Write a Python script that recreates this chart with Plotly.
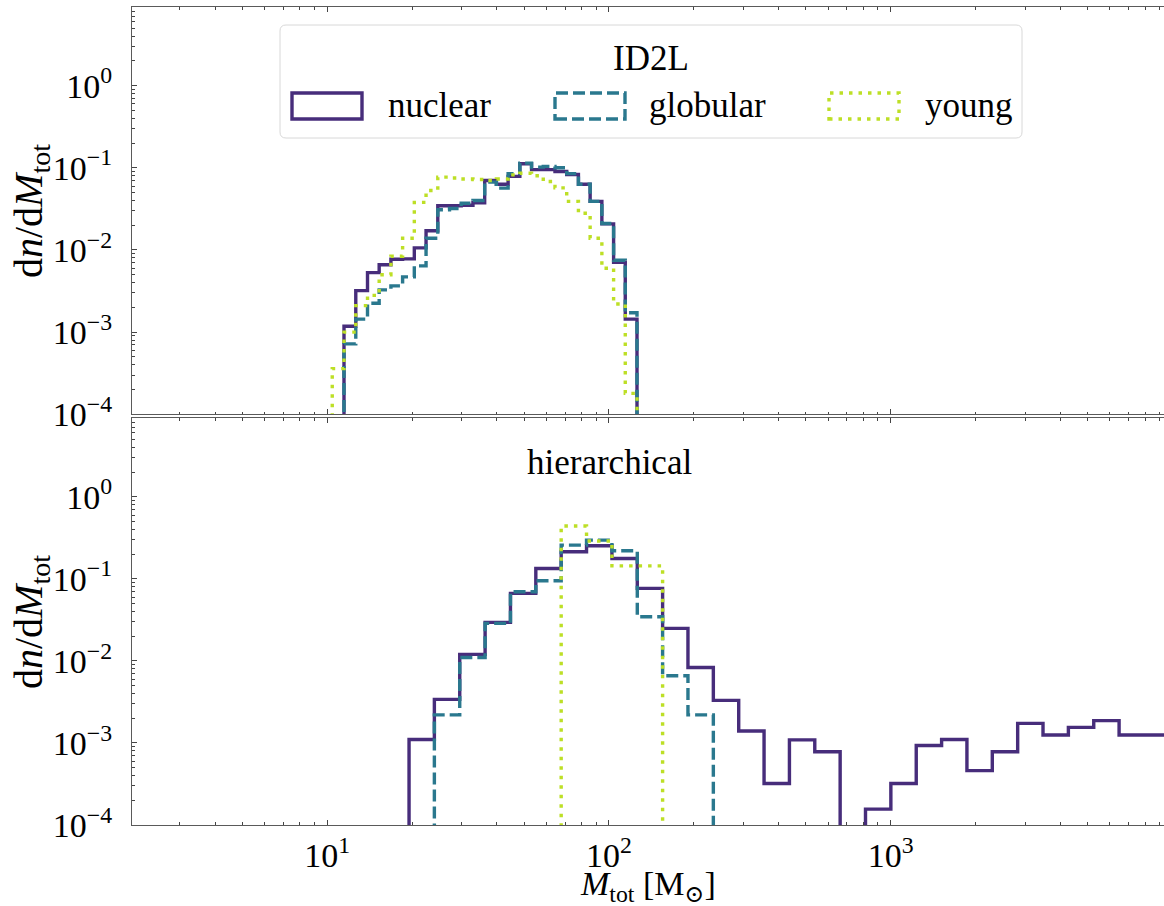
import plotly.graph_objects as go

# ---------------- data ----------------
# top panel (ID2L): common logarithmic bin edges in M_sun
top_edges = [10.42, 11.47, 12.63, 13.90, 15.29, 16.83, 18.52, 20.38, 22.43, 24.69,
             27.17, 29.90, 32.91, 36.22, 39.86, 43.87, 48.28, 53.13, 58.47, 64.35,
             70.82, 77.94, 85.77, 94.40, 103.9, 114.3, 125.8]
top_nuclear = [0, 1.18e-3, 3.2e-3, 5.3e-3, 6.6e-3, 7.7e-3, 7.8e-3, 0.0106, 0.0171, 0.0345,
               0.0345, 0.035, 0.0375, 0.070, 0.063, 0.0786, 0.112, 0.095, 0.095, 0.090,
               0.083, 0.063, 0.039, 0.0208, 0.0071, 1.44e-3]
top_globular = [0, 7.2e-4, 1.44e-3, 2.25e-3, 3.27e-3, 3.66e-3, 4.7e-3, 6.4e-3, 0.0139, 0.0308,
                0.032, 0.037, 0.040, 0.067, 0.0565, 0.085, 0.114, 0.102, 0.104, 0.100,
                0.085, 0.063, 0.039, 0.021, 0.0075, 1.72e-3]
top_young = [3.6e-4, 1.0e-3, 2.1e-3, 2.8e-3, 5.0e-3, 8.4e-3, 0.0139, 0.038, 0.053, 0.077,
             0.075, 0.073, 0.072, 0.070, 0.073, 0.082, 0.086, 0.080, 0.068, 0.057,
             0.039, 0.028, 0.0139, 6.0e-3, 2.2e-3, 1.8e-4]

# bottom panel (hierarchical)
bot_edges = [19.52, 24.01, 29.54, 36.35, 44.72, 55.02, 67.69, 83.28, 102.5, 126.1,
             155.1, 190.8, 234.8, 288.9, 355.4, 437.3, 538.0, 662.0, 814.4, 1002,
             1233, 1517, 1866, 2296, 2825, 3475, 4276, 5261, 6472, 7963, 9798]
bot_nuclear = [1.1e-3, 3.4e-3, 0.012, 0.0295, 0.0666, 0.134, 0.214, 0.253, 0.177, 0.0766,
               0.0249, 8.3e-3, 3.3e-3, 1.4e-3, 3.2e-4, 1.09e-3, 7.8e-4, 0, 1.56e-4, 3.2e-4,
               9.3e-4, 1.1e-3, 4.6e-4, 7.8e-4, 1.73e-3, 1.25e-3, 1.55e-3, 1.87e-3, 1.25e-3, 1.25e-3]
bot_globular = [0, 2.2e-3, 0.011, 0.0287, 0.0697, 0.095, 0.258, 0.297, 0.22, 0.0345,
                6.6e-3, 2.2e-3]
bot_young = [0, 0, 0, 0, 0, 0, 0.44, 0.29, 0.144, 0.144]

series_names = ["nuclear", "globular", "young"]
legend_title = "ID2L"
panel2_title = "hierarchical"

y_tickvals = [1e-4, 1e-3, 1e-2, 1e-1, 1]
y_ticktext = ["10<sup>−4</sup>", "10<sup>−3</sup>", "10<sup>−2</sup>", "10<sup>−1</sup>", "10<sup>0</sup>"]
x_tickvals = [10, 100, 1000]
x_ticktext = ["10<sup>1</sup>", "10<sup>2</sup>", "10<sup>3</sup>"]

# ---------------- style ----------------
COLORS = {"nuclear": "#472d7b", "globular": "#2a788e", "young": "#bddf26"}
DASH = {"nuclear": "solid", "globular": "12px,5px", "young": "3.5px,6px"}
LW = 3.4
FONT = "Liberation Serif, DejaVu Serif, serif"
FLOOR = 1e-9

W, H = 1164, 906
ML, MR, MT, MB = 132, 0, 7, 81
PW, PH = W - ML - MR, H - MT - MB


def step(edges, vals):
    xs = [edges[0]] + list(edges[:len(vals) + 1])
    ys = [FLOOR] + [v if v > 0 else FLOOR for v in vals] + [FLOOR]
    return xs, ys


fig = go.Figure()
panels = [
    ("x", "y", top_edges, [top_nuclear, top_globular, top_young]),
    ("x2", "y2", bot_edges, [bot_nuclear, bot_globular, bot_young]),
]
for xa, ya, edges, vals_list in panels:
    for name, vals in zip(series_names, vals_list):
        xs, ys = step(edges, vals)
        fig.add_trace(go.Scatter(
            x=xs, y=ys, mode="lines", line_shape="hv", name=name, showlegend=False,
            line=dict(color=COLORS[name], width=LW, dash=DASH[name]),
            xaxis=xa, yaxis=ya, hoverinfo="skip"))

x_minor = [m * 10 ** k for k in range(0, 4) for m in range(2, 10)]
y_minor = [m * 10.0 ** k for k in range(-4, 1) for m in range(2, 10)]

axis_common = dict(showline=True, linecolor="#5a5a5a", linewidth=1.3,
                   ticks="inside", ticklen=5, tickwidth=1, tickcolor="#444",
                   showgrid=False, zeroline=False,
                   tickfont=dict(family=FONT, size=34, color="black"))

xrange = [0.307, 0.307 + PW / 281.7]
yrange = [-4, 0.957]

fig.update_layout(
    width=W, height=H,
    margin=dict(l=ML, r=MR, t=MT, b=MB),
    plot_bgcolor="white", paper_bgcolor="white",
    xaxis=dict(type="log", range=xrange, anchor="y", domain=[0, 1],
               tickvals=x_tickvals, ticktext=x_ticktext, showticklabels=False,
               mirror="allticks",
               minor=dict(tickvals=x_minor, ticks="inside", ticklen=2.5, tickcolor="#444"),
               **axis_common),
    yaxis=dict(type="log", range=yrange, anchor="x", domain=[(825 - 414.3) / PH, 1],
               tickvals=y_tickvals, ticktext=y_ticktext, ticklabelstandoff=12,
               minor=dict(tickvals=y_minor, ticks="inside", ticklen=2.5, tickcolor="#444"),
               **axis_common),
    xaxis2=dict(type="log", range=xrange, anchor="y2", domain=[0, 1], matches="x",
                tickvals=x_tickvals, ticktext=x_ticktext, ticklabelstandoff=0,
                mirror="allticks",
                minor=dict(tickvals=x_minor, ticks="inside", ticklen=2.5, tickcolor="#444"),
                **axis_common),
    yaxis2=dict(type="log", range=yrange, anchor="x2", domain=[0, (825 - 418.3) / PH],
                tickvals=y_tickvals, ticktext=y_ticktext, ticklabelstandoff=12,
                minor=dict(tickvals=y_minor, ticks="inside", ticklen=2.5, tickcolor="#444"),
                **axis_common),
)


def px2paper(px, py):
    return (px - ML) / PW, (H - MB - py) / PH


ann = []
ytitle = "d<i>n</i>/d<i>M</i><sub>tot</sub>"
for cy in (211, 622):
    ax, ay = px2paper(31, cy)
    ann.append(dict(text=ytitle, x=ax, y=ay, xref="paper", yref="paper", showarrow=False,
                    textangle=-90, xanchor="center", yanchor="middle",
                    font=dict(family=FONT, size=40, color="black")))
ax, ay = px2paper(648, 886)
ann.append(dict(text="<i>M</i><sub>tot</sub> [M<sub>⊙</sub>]", x=ax, y=ay, xref="paper", yref="paper",
                showarrow=False, xanchor="center", yanchor="middle",
                font=dict(family=FONT, size=34, color="black")))
ax, ay = px2paper(609, 462)
ann.append(dict(text=panel2_title, x=ax, y=ay, xref="paper", yref="paper", showarrow=False,
                xanchor="center", yanchor="middle", font=dict(family=FONT, size=35, color="black")))

# ---- legend (drawn manually to reproduce outlined patches) ----
shapes = []
bx0, bx1, by0, by1, r = 280, 1022, 25, 138, 6
x0p, y0p = px2paper(bx0, by1)
x1p, y1p = px2paper(bx1, by0)
rx, ry = r / PW, r / PH
path = (f"M {x0p + rx},{y0p} L {x1p - rx},{y0p} Q {x1p},{y0p} {x1p},{y0p + ry} "
        f"L {x1p},{y1p - ry} Q {x1p},{y1p} {x1p - rx},{y1p} L {x0p + rx},{y1p} "
        f"Q {x0p},{y1p} {x0p},{y1p - ry} L {x0p},{y0p + ry} Q {x0p},{y0p} {x0p + rx},{y0p} Z")
shapes.append(dict(type="path", path=path, xref="paper", yref="paper",
                   line=dict(color="#d8d8d8", width=1), fillcolor="rgba(255,255,255,0.85)", layer="above"))
ax, ay = px2paper(651, 58)
ann.append(dict(text=legend_title, x=ax, y=ay, xref="paper", yref="paper", showarrow=False,
                xanchor="center", yanchor="middle", font=dict(family=FONT, size=35, color="black")))
patch_x = {"nuclear": 292, "globular": 555, "young": 829}
label_x = {"nuclear": 386, "globular": 647, "young": 923}
for name in series_names:
    px0 = patch_x[name]
    a0, b0 = px2paper(px0, 119)
    a1, b1 = px2paper(px0 + 70, 93)
    shapes.append(dict(type="rect", xref="paper", yref="paper", x0=a0, y0=b0, x1=a1, y1=b1,
                       line=dict(color=COLORS[name], width=LW, dash=DASH[name]),
                       fillcolor="rgba(0,0,0,0)", layer="above"))
    lx, ly = px2paper(label_x[name], 106)
    ann.append(dict(text=name, x=lx, y=ly, xref="paper", yref="paper", showarrow=False,
                    xanchor="left", yanchor="middle", font=dict(family=FONT, size=35, color="black")))

fig.update_layout(annotations=ann, shapes=shapes)
fig.write_html("out.html")
